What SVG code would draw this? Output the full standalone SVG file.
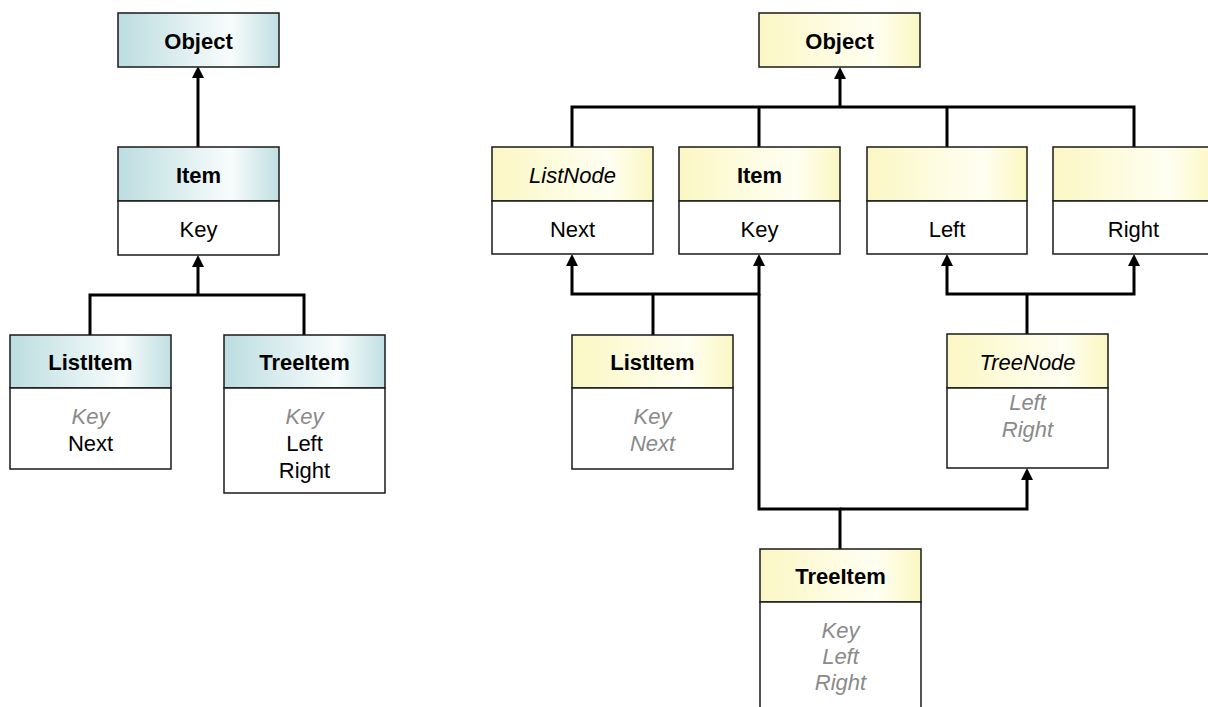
<svg xmlns="http://www.w3.org/2000/svg" width="1208" height="707" viewBox="0 0 1208 707">
  <style>
    .box { fill: #ffffff; stroke: #1a1a1a; stroke-width: 1.5; }
    .hdr-teal { fill: url(#gTeal); stroke: #1a1a1a; stroke-width: 1.5; }
    .hdr-yellow { fill: url(#gYellow); stroke: #1a1a1a; stroke-width: 1.5; }
    text { font-family: "Liberation Sans", Arial, sans-serif; font-size: 22px; text-anchor: middle; fill: #000; }
    .title { font-weight: bold; }
    .abstract { font-style: italic; }
    .inherited { font-style: italic; fill: #8a8a8a; }
    .conn { fill: none; stroke: #000; stroke-width: 3; }
    .arrow { marker-end: url(#head); }
  </style>
  <defs>
    <linearGradient id="gTeal" x1="0" y1="0" x2="1" y2="0">
      <stop offset="0" stop-color="#bcdde0"/>
      <stop offset="0.7" stop-color="#f8fcfc"/>
      <stop offset="1" stop-color="#c0dfe2"/>
    </linearGradient>
    <linearGradient id="gYellow" x1="0" y1="0" x2="1" y2="0">
      <stop offset="0" stop-color="#fbf7c4"/>
      <stop offset="0.72" stop-color="#fffff2"/>
      <stop offset="1" stop-color="#fbf7c2"/>
    </linearGradient>
    <marker id="head" viewBox="0 0 12 12" refX="0" refY="6" markerWidth="12" markerHeight="12" markerUnits="userSpaceOnUse" orient="auto">
      <path d="M0,0 L12,6 L0,12 Z" fill="#000"/>
    </marker>
  </defs>

  <!-- connectors -->
  <g id="connectors">
    <!-- left hierarchy -->
    <path class="conn arrow" d="M198,147 V78"/>
    <path class="conn arrow" d="M90,335 V295 H304 V335 M198,295 V267"/>
    <!-- right hierarchy: four base classes up to Object -->
    <path class="conn arrow" d="M572,148 V107 H1134 V148 M759,107 V148 M947,107 V148 M840,107 V79"/>
    <!-- ListItem up to ListNode and Item -->
    <path class="conn" d="M653,335 V294"/>
    <path class="conn arrow" d="M653,294 H572 V266"/>
    <path class="conn arrow" d="M653,294 H759 V266"/>
    <!-- TreeNode up to Left and Right -->
    <path class="conn" d="M1027,334 V294"/>
    <path class="conn arrow" d="M1027,294 H947 V266"/>
    <path class="conn arrow" d="M1027,294 H1134 V266"/>
    <!-- TreeItem up to Item and TreeNode -->
    <path class="conn" d="M840,549 V509 H759 V294"/>
    <path class="conn arrow" d="M840,509 H1027 V480"/>
  </g>

  <!-- left hierarchy -->
  <g id="l-object">
    <rect class="hdr-teal" x="118" y="13" width="161" height="54"/>
    <text class="title" x="198.5" y="48.5">Object</text>
  </g>
  <g id="l-item">
    <rect class="hdr-teal" x="118" y="147" width="161" height="54"/>
    <rect class="box" x="118" y="201" width="161" height="54"/>
    <text class="title" x="198.5" y="182.5">Item</text>
    <text x="198.5" y="236.5">Key</text>
  </g>
  <g id="l-listitem">
    <rect class="hdr-teal" x="10" y="335" width="161" height="53"/>
    <rect class="box" x="10" y="388" width="161" height="81"/>
    <text class="title" x="90.5" y="370">ListItem</text>
    <text class="inherited" x="90.5" y="424">Key</text>
    <text x="90.5" y="451">Next</text>
  </g>
  <g id="l-treeitem">
    <rect class="hdr-teal" x="224" y="335" width="161" height="53"/>
    <rect class="box" x="224" y="388" width="161" height="105"/>
    <text class="title" x="304.5" y="370">TreeItem</text>
    <text class="inherited" x="304.5" y="424">Key</text>
    <text x="304.5" y="451">Left</text>
    <text x="304.5" y="478">Right</text>
  </g>

  <!-- right hierarchy -->
  <g id="r-object">
    <rect class="hdr-yellow" x="759" y="13" width="161" height="54"/>
    <text class="title" x="839.5" y="48.5">Object</text>
  </g>
  <g id="r-listnode">
    <rect class="hdr-yellow" x="492" y="147" width="161" height="54"/>
    <rect class="box" x="492" y="201" width="161" height="53"/>
    <text class="abstract" x="572.5" y="182.5">ListNode</text>
    <text x="572.5" y="236.5">Next</text>
  </g>
  <g id="r-item">
    <rect class="hdr-yellow" x="679" y="147" width="161" height="54"/>
    <rect class="box" x="679" y="201" width="161" height="53"/>
    <text class="title" x="759.5" y="182.5">Item</text>
    <text x="759.5" y="236.5">Key</text>
  </g>
  <g id="r-left">
    <rect class="hdr-yellow" x="867" y="147" width="160" height="54"/>
    <rect class="box" x="867" y="201" width="160" height="53"/>
    <text x="947" y="236.5">Left</text>
  </g>
  <g id="r-right">
    <rect class="hdr-yellow" x="1053" y="147" width="161" height="54"/>
    <rect class="box" x="1053" y="201" width="161" height="53"/>
    <text x="1133.5" y="236.5">Right</text>
  </g>
  <g id="r-listitem">
    <rect class="hdr-yellow" x="572" y="335" width="161" height="53"/>
    <rect class="box" x="572" y="388" width="161" height="81"/>
    <text class="title" x="652.5" y="370">ListItem</text>
    <text class="inherited" x="652.5" y="424">Key</text>
    <text class="inherited" x="652.5" y="451">Next</text>
  </g>
  <g id="r-treenode">
    <rect class="hdr-yellow" x="947" y="334" width="161" height="54"/>
    <rect class="box" x="947" y="388" width="161" height="80"/>
    <text class="abstract" x="1027.5" y="370">TreeNode</text>
    <text class="inherited" x="1027.5" y="410">Left</text>
    <text class="inherited" x="1027.5" y="437">Right</text>
  </g>
  <g id="r-treeitem">
    <rect class="hdr-yellow" x="760" y="549" width="161" height="53"/>
    <rect class="box" x="760" y="602" width="161" height="120"/>
    <text class="title" x="840.5" y="584">TreeItem</text>
    <text class="inherited" x="840.5" y="638">Key</text>
    <text class="inherited" x="840.5" y="664">Left</text>
    <text class="inherited" x="840.5" y="690">Right</text>
  </g>
</svg>
